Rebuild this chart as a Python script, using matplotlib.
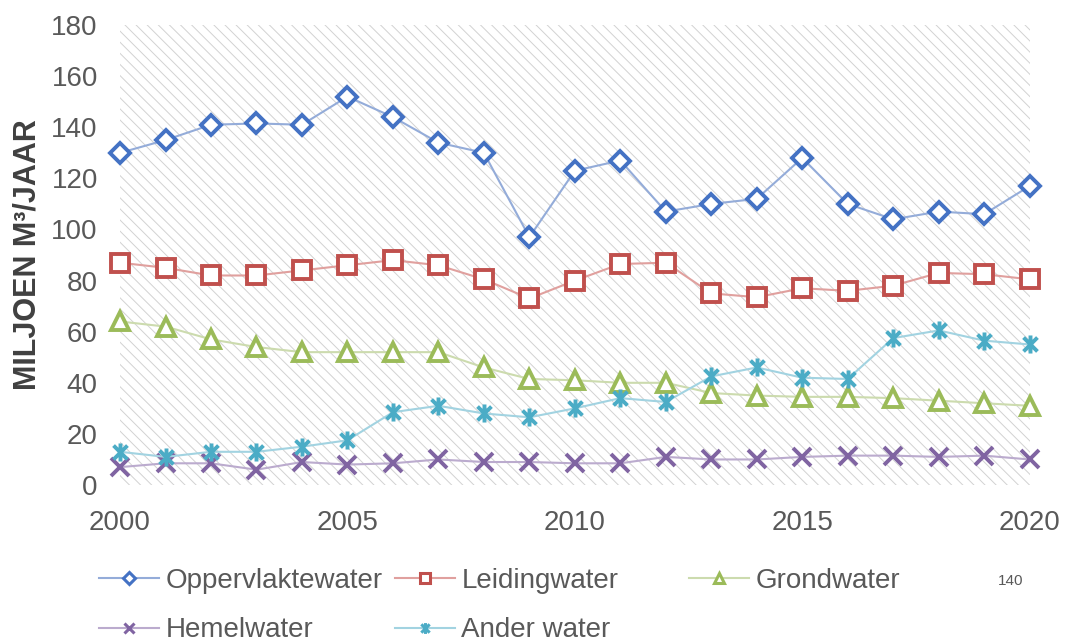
import matplotlib.pyplot as plt
from matplotlib.path import Path
from matplotlib.lines import Line2D

plt.rcParams['font.family'] = ['Liberation Sans', 'DejaVu Sans']
plt.rcParams['hatch.linewidth'] = 0.7

# Data
years = list(range(2000, 2021))
oppervlaktewater = [130, 135, 141, 141.5, 141, 152, 144, 134, 130, 97, 123, 127, 107, 110, 112, 128, 110, 104, 107, 106, 117]
leidingwater = [87, 85, 82, 82, 84, 86, 88, 86, 80.5, 73, 80, 86.5, 87, 75, 73.5, 77, 76, 78, 83, 82.5, 80.5]
grondwater = [64, 62, 57, 54, 52, 52, 52, 52, 46, 41.5, 41, 40, 40, 36, 35, 34.5, 34.5, 34, 33, 32, 31]
hemelwater = [7, 8.5, 8.5, 6, 9, 8, 8.5, 10, 9, 9, 8.5, 8.5, 11, 10, 10, 11, 11.5, 11.5, 11, 11.5, 10]
ander_water = [13, 11, 13, 13, 15, 17.5, 28.5, 31, 28, 26.5, 30, 34, 32.5, 42.5, 46, 42, 41.5, 57.5, 60.5, 56.5, 55]

# excel style star: x plus a vertical bar
star = Path([(-1, -1), (1, 1), (-1, 1), (1, -1), (0, -1.3), (0, 1.3)],
            [Path.MOVETO, Path.LINETO, Path.MOVETO, Path.LINETO, Path.MOVETO, Path.LINETO])

# name, values, marker, marker colour, line colour, marker size
series = [
    ("Oppervlaktewater", oppervlaktewater, "D", "#4472C4", "#94ACD9", 10),
    ("Leidingwater", leidingwater, "s", "#C0504D", "#E0A09E", 13),
    ("Grondwater", grondwater, "^", "#9BBB59", "#CCDBAE", 13),
    ("Hemelwater", hemelwater, "x", "#8064A2", "#BBABCE", 13),
    ("Ander water", ander_water, star, "#4BACC6", "#A2D3E1", 13),
]

fig = plt.figure(figsize=(10.67, 6.43), dpi=100)
ax = fig.add_axes([0.1125, 0.2457, 0.8525, 0.7153])

# hatched plot background
ax.fill_between([2000, 2020], 0, 180, facecolor="white", edgecolor="#D2D2D2",
                hatch="\\\\\\", linewidth=0, zorder=0)

proxies = {}
for name, vals, mk, mc, lc, ms in series:
    filled = mk in ("x", star)
    ax.plot(years, vals, color=lc, linewidth=1.5, marker=mk, markersize=ms,
            markerfacecolor=mc if filled else "white",
            markeredgecolor=mc, markeredgewidth=2.8, zorder=3, clip_on=False)
    proxies[name] = Line2D([], [], color=lc, linewidth=1.5, marker=mk,
                           markersize=ms * 0.6, markerfacecolor=mc if filled else "white",
                           markeredgecolor=mc, markeredgewidth=2.2)

ax.set_xlim(2000, 2020)
ax.set_ylim(0, 180)
ax.set_xticks([2000, 2005, 2010, 2015, 2020])
ax.set_yticks(range(0, 181, 20))
ax.tick_params(axis="both", length=0, labelsize=20, colors="#595959")
ax.tick_params(axis="y", pad=16)
ax.tick_params(axis="x", pad=18)
for s in ax.spines.values():
    s.set_visible(False)
ax.set_ylabel("MILJOEN M³/JAAR", fontsize=22, fontweight="bold", color="#404040", labelpad=6)

# legend: three equally spaced columns like the excel layout
columns = [["Oppervlaktewater", "Hemelwater"], ["Leidingwater", "Ander water"], ["Grondwater"]]
col_x = [0.093, 0.370, 0.646]
for names, x in zip(columns, col_x):
    leg = fig.legend([proxies[n] for n in names], names, loc="upper left",
                     bbox_to_anchor=(x, 0.117), frameon=False, fontsize=20,
                     borderpad=0, borderaxespad=0, handlelength=2.15,
                     handletextpad=0.25, labelspacing=0.85)
    for t in leg.get_texts():
        t.set_color("#595959")

fig.text(0.935, 0.09, "140", fontsize=11, color="#595959")

fig.savefig("out.png", dpi=100)
